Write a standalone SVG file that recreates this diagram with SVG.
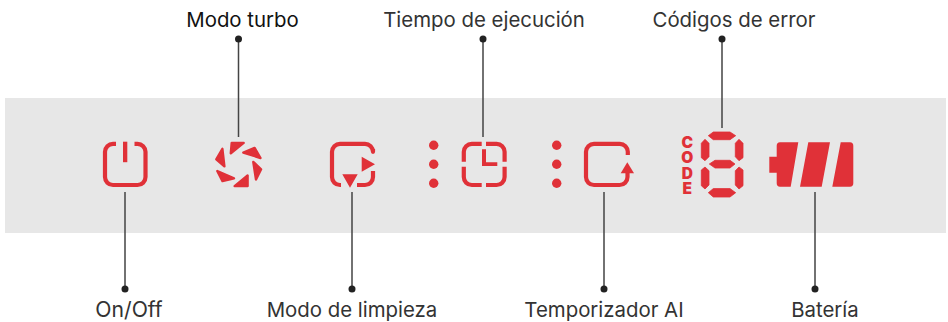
<svg xmlns="http://www.w3.org/2000/svg" width="948" height="322" viewBox="0 0 948 322">
<style>
.lbl{font-family:Inter,"Liberation Sans",sans-serif;font-size:20.400px;fill:#333;text-anchor:middle}
.ln{stroke:#444;stroke-width:1.5;fill:none}
.dot{fill:#222}
.s{fill:none;stroke:#e03138;stroke-width:4.200;stroke-linecap:butt;stroke-linejoin:round}
.f{fill:#e03138}
.b{fill:#e03138;stroke:#e03138;stroke-width:2.400;stroke-linejoin:round}
.d{fill:#e03138;stroke:#e03138;stroke-width:.8;stroke-linejoin:round}
</style>
<rect width="948" height="322" fill="#fff"/>
<rect id="panel" x="5" y="98" width="941" height="135" fill="#e7e7e7"/>
<g id="connectors">
<path class="ln" d="M238.500 39V137M483 39V137M722 39V128M125 192V289M352 192V289M604 192V289M815 192V289"/>
<circle class="dot" cx="238.500" cy="39" r="3.500"/><circle class="dot" cx="483" cy="39" r="3.500"/><circle class="dot" cx="722" cy="39" r="3.500"/>
<circle class="dot" cx="125" cy="289" r="3.500"/><circle class="dot" cx="352" cy="289" r="3.500"/><circle class="dot" cx="604" cy="289" r="3.500"/><circle class="dot" cx="815" cy="289" r="3.500"/>
</g>
<g id="on-off">
<path class="s" d="M116 143.800H113A8 8 0 0 0 105 151.800V177A8 8 0 0 0 113 185H137.500A8 8 0 0 0 145.500 177V151.800A8 8 0 0 0 137.500 143.800H134.500"/>
<rect class="f" x="123" y="141.700" width="4.300" height="20.500"/>
<text class="lbl" x="129" y="316.500" style="font-size:21.200px">On/Off</text>
</g>
<g id="modo-turbo">
<path class="b" d="M231.700 142.900L243.700 142.900L230.800 153.200ZM243.300 152.500L254.600 147.900L260.500 158ZM253.300 162L261.100 169.300L256 179.500ZM247.600 175.500L247.600 186.100L234.600 186.100ZM217.300 171L234 178.300L222.500 181.100ZM222.400 148.800L224.400 166.300L216.300 159.300Z"/>
<text class="lbl" style="fill:#111" x="242.500" y="27">Modo turbo</text>
</g>
<g id="modo-limpieza">
<path class="s" d="M373 149V151.800A8 8 0 0 0 365 143.800H340A8 8 0 0 0 332 151.800V177A8 8 0 0 0 340 185H341M357 185H365A8 8 0 0 0 373 177V171"/>
<path class="f" d="M361.700 156.700L375 164.300L361.700 171.700ZM342.300 174.300L357.700 174.300L350 187.700Z"/>
<text class="lbl" x="352" y="316.500">Modo de limpieza</text>
</g>
<g id="tiempo">
<circle class="f" cx="433.700" cy="145.300" r="4.700"/><circle class="f" cx="433.700" cy="164.300" r="4.700"/><circle class="f" cx="433.700" cy="183.300" r="4.700"/>
<path class="s" d="M481.700 143.800H471.800A8 8 0 0 0 463.800 151.800V161.700M463.800 166.700V177A8 8 0 0 0 471.800 185H481.700M486 143.800H496.600A8 8 0 0 1 504.600 151.800V161.700M504.600 166.700V177A8 8 0 0 1 496.600 185H486"/>
<path class="f" d="M482 149.300H486V162.300H497.300V166H482Z"/>
<text class="lbl" x="484" y="27">Tiempo de ejecución</text>
</g>
<g id="temporizador">
<circle class="f" cx="556.700" cy="145.300" r="4.700"/><circle class="f" cx="556.700" cy="164.300" r="4.700"/><circle class="f" cx="556.700" cy="183.300" r="4.700"/>
<path class="s" d="M627.800 155V151.800A8 8 0 0 0 619.800 143.800H594A8 8 0 0 0 586 151.800V177A8 8 0 0 0 594 185H619.500A8 8 0 0 0 627.500 177V172"/>
<path class="f" d="M627.300 162.300L634 173.300L620.700 173.300Z"/>
<text class="lbl" x="604" y="316.500">Temporizador AI</text>
</g>
<g id="codigos">
<path class="d" d="M708.300 135.700L713.300 132H730L735.700 135.700L730 139.700H713.300ZM701.300 143.300L705 139.300L709 143.300V156.700L705 160.700L701.300 157.700ZM735.300 143.300L739 139.300L743 143.300V157.700L739 160.700L735.300 156.700ZM709.300 164L715 160.300H730L735 164L730 168H715ZM701.300 170L705 167L709 170.700V185L705 189L701.300 185.700ZM735.300 170.700L739 167L743 170V185.700L739 189L735.300 185ZM708.300 192.700L713.300 188.600H730L735.700 192.700L730 197H713.300Z"/>
<text x="687.300" y="133" style="font-family:Inter,'Liberation Sans',sans-serif;font-weight:900;font-size:15.500px;fill:#e03138;writing-mode:vertical-rl;text-orientation:upright;letter-spacing:-3.700px">CODE</text>
<text class="lbl" x="734" y="27">Códigos de error</text>
</g>
<g id="bateria">
<path class="f" d="M769.300 156.700H776.700V172.700H769.300ZM780 142.300H798.300L790.700 186.700H780A3.500 3.500 0 0 1 776.700 183.200V145.800A3.500 3.500 0 0 1 780 142.300ZM808.300 142.300H830L821.700 186.700H800ZM840.700 142.300H850A3.500 3.500 0 0 1 853.300 145.800V183.200A3.500 3.500 0 0 1 850 186.700H832.300Z"/>
<text class="lbl" x="825" y="316.500">Batería</text>
</g>
</svg>
